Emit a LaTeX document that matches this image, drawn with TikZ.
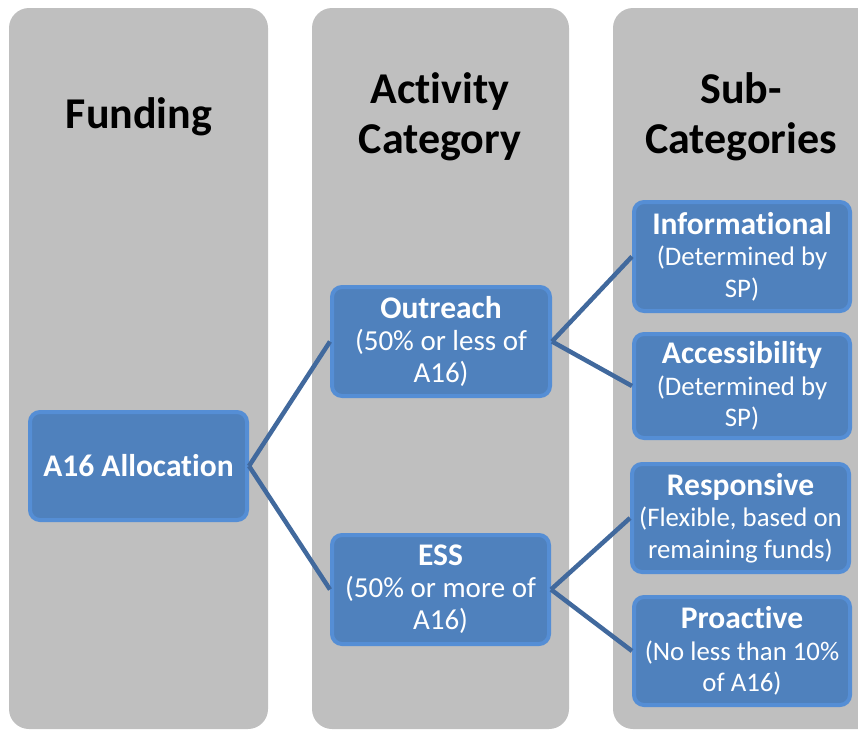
\documentclass[tikz,border=0pt]{standalone}
\usepackage{fontspec}
\setmainfont{Carlito}[Ligatures={NoCommon}]
\definecolor{colgray}{HTML}{BFBFBF}
\definecolor{boxfill}{HTML}{4F81BD}
\definecolor{boxedge}{HTML}{558ED5}
\definecolor{linkcol}{HTML}{41699D}
\tikzset{
  column/.style={fill=colgray, draw=none, rounded corners=20pt},
  title/.style={align=center, font=\fontsize{44}{50}\selectfont\bfseries, text=black},
  bluebox/.style={rectangle, rounded corners=10pt, fill=boxfill, draw=boxedge, line width=4pt,
    text=white, align=center, inner sep=1pt, font=\fontsize{29}{32}\selectfont},
  subbox/.style={bluebox, font=\fontsize{26.8}{31.5}\selectfont},
  link/.style={draw=linkcol, line width=4.5pt}
}
\newcommand{\hd}[1]{{\fontsize{31.5}{32}\selectfont\bfseries #1}}
\begin{document}
\begin{tikzpicture}[x=1pt,y=-1pt]
\useasboundingbox (0,0) rectangle (858,729);
\clip (0,0) rectangle (858,729);
% columns
\fill[column] (9,8) rectangle (268,729);
\fill[column] (312,8) rectangle (569,729);
\fill[column] (613,8) rectangle (890,729);
% titles
\node[title] (t1) at (139,117) {Funding};
\node[title] (t2) at (440,117) {Activity\\Category};
\node[title] (t3) at (741,117) {Sub-\\Categories};
% boxes
\node[bluebox, minimum width=217pt, minimum height=108pt] (a16) at (138.5,466) {\hd{A16 Allocation}};
\node[bluebox, minimum width=218pt, minimum height=109pt] (out) at (441,341.5) {\hd{Outreach}\\(50\% or less of\\A16)};
\node[bluebox, minimum width=217pt, minimum height=109pt] (ess) at (440.5,589.5) {\hd{ESS}\\(50\% or more of\\A16)};
\node[subbox, minimum width=216pt, minimum height=109pt] (inf) at (742,256.5) {\hd{Informational}\\(Determined by\\SP)};
\node[subbox, minimum width=216pt, minimum height=104pt] (acc) at (742,386) {\hd{Accessibility}\\(Determined by\\SP)};
\node[subbox, minimum width=217pt, minimum height=108pt] (res) at (740.5,518) {\hd{Responsive}\\(Flexible, based on\\remaining funds)};
\node[subbox, minimum width=216pt, minimum height=108pt] (pro) at (742,651) {\hd{Proactive}\\(No less than 10\%\\of A16)};
% connectors
\draw[link] (a16.east) -- (out.west);
\draw[link] (a16.east) -- (ess.west);
\draw[link] (out.east) -- (inf.west);
\draw[link] (out.east) -- (acc.west);
\draw[link] (ess.east) -- (res.west);
\draw[link] (ess.east) -- (pro.west);
\end{tikzpicture}
\end{document}
